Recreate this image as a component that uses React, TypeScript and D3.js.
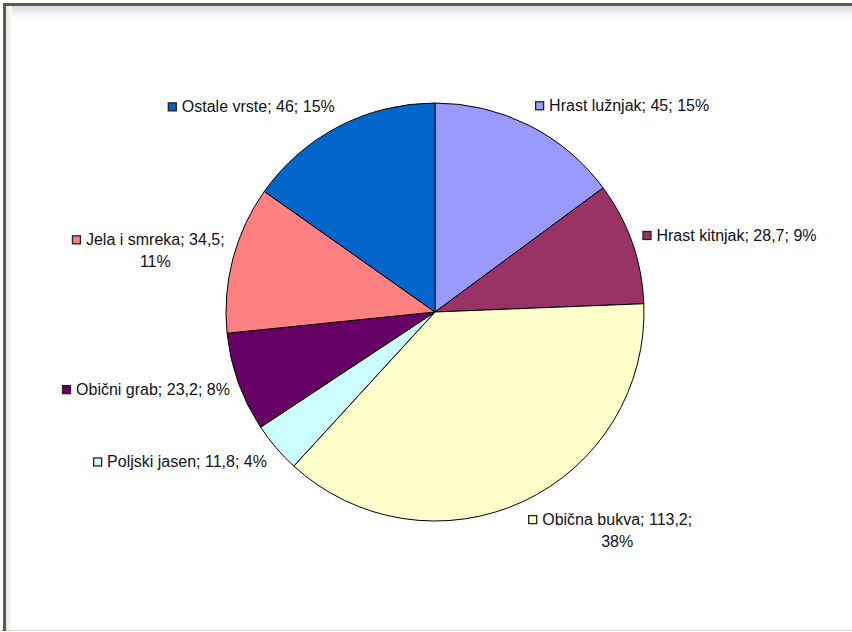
import * as d3 from 'd3';
import React, { useRef, useEffect } from 'react';

// species, clockwise from 12 o'clock
const species = [
    'Hrast lužnjak',
    'Hrast kitnjak',
    'Obična bukva',
    'Poljski jasen',
    'Obični grab',
    'Jela i smreka',
    'Ostale vrste',
];
const volumes = [45, 28.7, 113.2, 11.8, 23.2, 34.5, 46];
const percentLabels = ['15%', '9%', '38%', '4%', '8%', '11%', '15%'];
const valueLabels = ['45', '28,7', '113,2', '11,8', '23,2', '34,5', '46'];
const sliceColors = ['#9999FF', '#993366', '#FFFFCC', '#CCFFFF', '#660066', '#FF8080', '#0066CC'];

const W = 852;
const H = 632;

const App: React.FC = () => {
    const ref = useRef<SVGSVGElement | null>(null);

    useEffect(() => {
        const svg = d3.select(ref.current);
        svg.selectAll('*').remove();

        // frame with a soft shadow like the pasted Excel object
        const defs = svg.append('defs');
        const gTop = defs.append('linearGradient').attr('id', 'shTop').attr('x1', 0).attr('y1', 0).attr('x2', 0).attr('y2', 1);
        gTop.append('stop').attr('offset', '0%').attr('stop-color', '#dcdcdc');
        gTop.append('stop').attr('offset', '100%').attr('stop-color', '#ffffff');
        const gLeft = defs.append('linearGradient').attr('id', 'shLeft').attr('x1', 0).attr('y1', 0).attr('x2', 1).attr('y2', 0);
        gLeft.append('stop').attr('offset', '0%').attr('stop-color', '#e4e4e4');
        gLeft.append('stop').attr('offset', '100%').attr('stop-color', '#ffffff');

        svg.append('rect').attr('x', 0).attr('y', 0).attr('width', W).attr('height', H).attr('fill', '#fff');
        svg.append('rect').attr('x', 6).attr('y', 6).attr('width', W).attr('height', 12).attr('fill', 'url(#shTop)');
        svg.append('rect').attr('x', 6).attr('y', 6).attr('width', 6).attr('height', H).attr('fill', 'url(#shLeft)');
        svg.append('line').attr('x1', 0).attr('x2', W).attr('y1', 630.5).attr('y2', 630.5)
            .attr('stroke', '#d4d4d4').attr('stroke-width', 1);
        svg.append('path').attr('d', `M4.5,${H - 1} V4.5 H${W}`)
            .attr('fill', 'none').attr('stroke', '#5e5c48').attr('stroke-width', 3);

        const cx = 435;
        const cy = 312;
        const radius = 209;

        const data = species.map((name, i) => ({
            name,
            value: volumes[i],
            label: `${name}; ${valueLabels[i]}; ${percentLabels[i]}`,
            color: sliceColors[i],
        }));

        const pie = d3.pie<any>().sort(null).value((d: any) => d.value);
        const arcs = pie(data);

        const arc = d3.arc<any>().innerRadius(0).outerRadius(radius);
        const labelArc = d3.arc<any>().innerRadius(231).outerRadius(231);

        const g = svg.append('g').attr('transform', `translate(${cx},${cy})`);

        g.selectAll('path')
            .data(arcs)
            .join('path')
            .attr('d', arc as any)
            .attr('fill', (d: any) => d.data.color)
            .attr('stroke', '#000')
            .attr('stroke-width', 1);

        const fontSize = 16;
        const lineH = 22;

        arcs.forEach((d: any) => {
            const [px0, py0] = labelArc.centroid(d);
            const mid = (d.startAngle + d.endAngle) / 2;
            const right = mid < Math.PI;
            const full: string = d.data.label;
            const cut = full.lastIndexOf('; ');
            const lines = full.length > 23 ? [full.slice(0, cut + 1), full.slice(cut + 2)] : [full];

            // Excel pulls side labels in a bit and drops wrapped bottom labels
            const s = Math.abs(Math.sin(mid));
            const inward = 8 * Math.max(0, (s - 0.7) / 0.3);
            const px = px0 + (right ? -inward : inward);
            const py = py0 - Math.cos(mid) * (lines.length - 1) * 10;

            const lg = g.append('g');
            const texts = lines.map((ln) =>
                lg.append('text')
                    .text(ln)
                    .attr('font-family', 'Liberation Sans, Arial, sans-serif')
                    .attr('font-size', fontSize)
                    .attr('fill', '#111122')
            );
            const widths = texts.map((t) => (t.node() as SVGTextElement).getComputedTextLength());
            const w0 = widths[0];
            const markerW = 9;
            const gap = 5;

            let textStart: number;
            if (right) {
                textStart = px - 4 + markerW + gap;
            } else {
                textStart = px + 6 - w0;
            }
            const textCenter = textStart + w0 / 2;
            const capH = 11;
            const blockH = (lines.length - 1) * lineH + capH;
            const firstBase = py - blockH / 2 + capH;

            texts.forEach((t, i) => {
                t.attr('x', textCenter).attr('y', firstBase + i * lineH).attr('text-anchor', 'middle');
            });
            lg.append('rect')
                .attr('x', textStart - gap - markerW + 0.5)
                .attr('y', firstBase - 9.5)
                .attr('width', markerW - 1)
                .attr('height', markerW - 1)
                .attr('fill', d.data.color)
                .attr('stroke', '#222')
                .attr('stroke-width', 1.3);
        });
    }, []);

    return (
        <svg
            ref={ref}
            width={W}
            height={H}
            style={{ position: 'absolute', left: 0, top: 0, display: 'block' }}
        />
    );
};

export default App;
